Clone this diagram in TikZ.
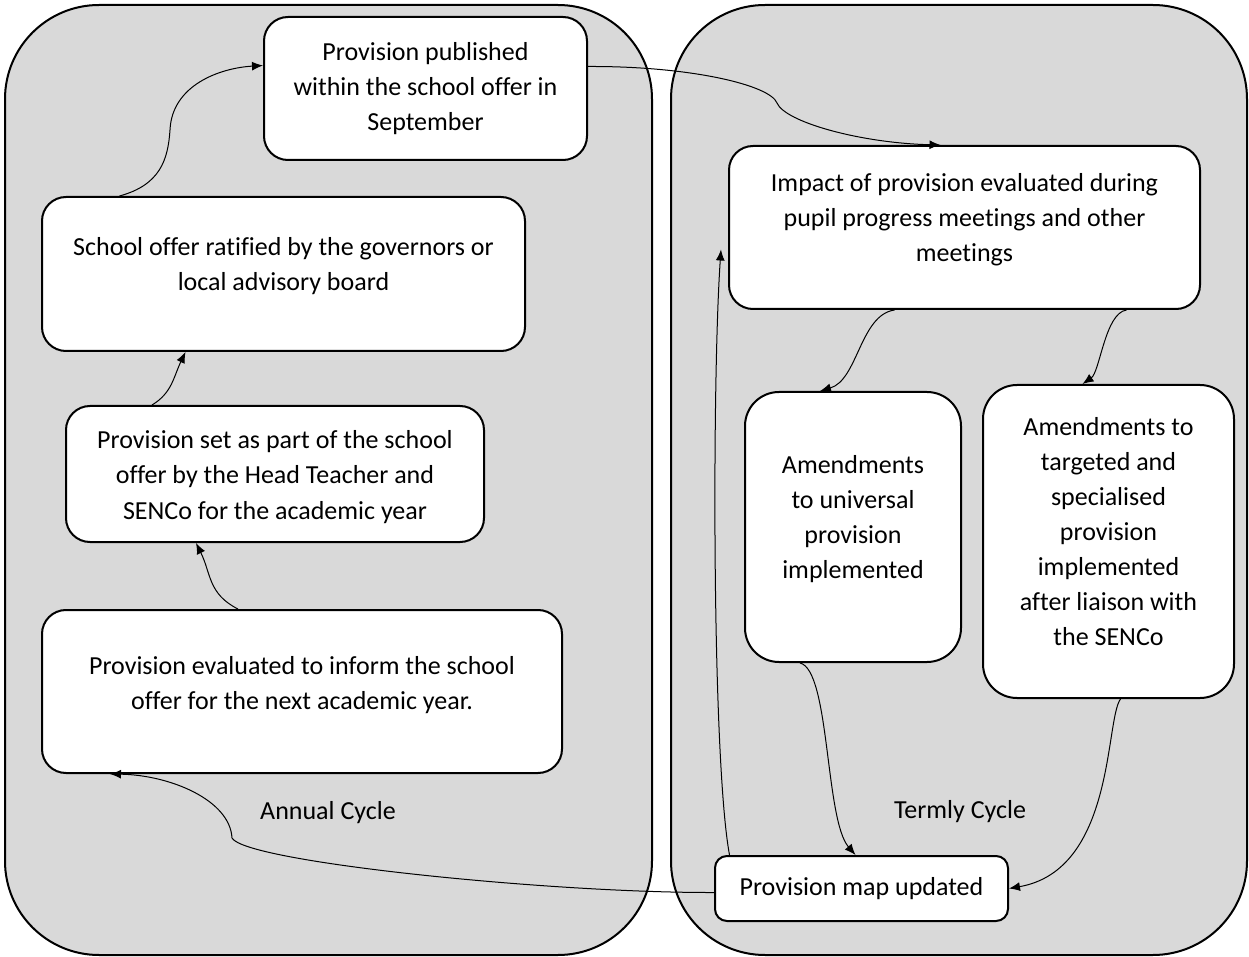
\documentclass[tikz,border=0pt]{standalone}
\usepackage{fontspec}
\setmainfont{Carlito}[Ligatures=CommonOff]
\usepackage{xcolor}
\usetikzlibrary{arrows.meta}
\definecolor{cyclegray}{RGB}{217,217,217}
% text set a little above the middle of its box
\newcommand\liftedtext[2]{\raisebox{0pt}[\height][\dimexpr\depth+#1\relax]{\begin{tabular}{@{}c@{}}#2\end{tabular}}}

\begin{document}
\begin{tikzpicture}[x=0.5pt,y=-0.5pt,>={Latex[length=5.5pt,width=4.5pt]},
  every node/.style={font=\fontsize{13}{17.5}\selectfont},
  stagebox/.style={draw,line width=1pt,fill=white,rounded corners=12pt,align=center,inner sep=2pt},
  link/.style={->,line width=0.5pt}]
  \useasboundingbox (0,0) rectangle (1249,957);
  % the two cycles
  \draw[line width=1pt,fill=cyclegray,rounded corners=47pt] (5,5) rectangle (652,955);
  \draw[line width=1pt,fill=cyclegray,rounded corners=47pt] (671,5) rectangle (1247,955);
  \node at (328,813) (annual) {Annual Cycle};
  \node at (960,812) (termly) {Termly Cycle};
  % annual cycle
  \node[stagebox,minimum width=161.5pt,minimum height=71.5pt] at (425.5,88.5) (pub)
    {Provision published\\within the school offer in\\September};
  \node[stagebox,minimum width=241.5pt,minimum height=77pt] at (283.5,274) (ratif)
    {\liftedtext{8pt}{School offer ratified by the governors or\\local advisory board}};
  \node[stagebox,minimum width=209pt,minimum height=68pt] at (275,474) (set)
    {\liftedtext{-3pt}{Provision set as part of the school\\offer by the Head Teacher and\\SENCo for the academic year}};
  \node[stagebox,minimum width=260pt,minimum height=81.5pt] at (302,691.5) (eval)
    {\liftedtext{7pt}{Provision evaluated to inform the school\\offer for the next academic year.}};
  % termly cycle
  \node[stagebox,minimum width=235.5pt,minimum height=81.5pt] at (964.5,227.5) (impact)
    {\liftedtext{8pt}{Impact of provision evaluated during\\pupil progress meetings and other\\meetings}};
  \node[stagebox,rounded corners=17pt,minimum width=108pt,minimum height=135pt] at (853,527) (univ)
    {\liftedtext{8pt}{Amendments\\to universal\\provision\\implemented}};
  \node[stagebox,rounded corners=17pt,minimum width=125.5pt,minimum height=156.5pt] at (1108.5,541.5) (target)
    {\liftedtext{8pt}{Amendments to\\targeted and\\specialised\\provision\\implemented\\after liaison with\\the SENCo}};
  \node[stagebox,rounded corners=6pt,minimum width=146.5pt,minimum height=32.5pt] at (861.5,888.5) (map)
    {Provision map updated};
  % connectors
  \draw[link] ([xshift=-32pt]eval.north) .. controls +(-30,-15) and +(15,30) .. ([xshift=-39.5pt]set.south);
  \draw[link] ([xshift=-61.5pt]set.north) .. controls +(20,-12) and +(-12,25) .. ([xshift=-49pt]ratif.south);
  \draw[link] ([xshift=-82pt]ratif.north) .. controls (160,185) and (168,160) .. (170,130)
    .. controls (172,85) and (220,68) .. ([yshift=11.5pt]pub.west);
  \draw[link] ([yshift=11pt]pub.east) .. controls (690,66) and (770,85) .. (777,103)
    .. controls (785,122) and (860,143) .. ([xshift=-12pt]impact.north);
  \draw[link] ([xshift=-35pt]impact.south) .. controls (860,315) and (858,380) .. ([xshift=-16.5pt]univ.north);
  \draw[link] ([xshift=81pt]impact.south) .. controls (1105,313) and (1100,372) .. ([xshift=-13pt]target.north);
  \draw[link] ([xshift=-26.5pt]univ.south) .. controls (830,670) and (825,820) .. ([xshift=-3pt]map.north);
  \draw[link] ([xshift=6pt]target.south) .. controls (1105,720) and (1115,870) .. (map.east);
  \draw[link] ([xshift=-66pt]map.north) .. controls (712,760) and (712,380) .. ([xshift=-3.5pt,yshift=-11pt]impact.west);
  \draw[link] ([yshift=-2pt]map.west) .. controls (550,893) and (245,862) .. (232,838)
    .. controls (230,800) and (170,775) .. ([xshift=-96pt]eval.south);
\end{tikzpicture}
\end{document}
